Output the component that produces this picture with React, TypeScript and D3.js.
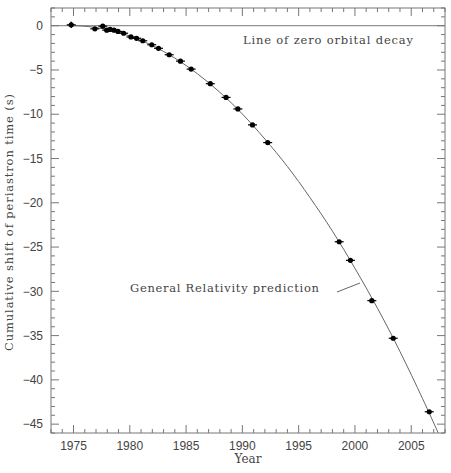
import React, { useEffect, useRef } from 'react';
import * as d3 from 'd3';

// observed cumulative periastron shift (s)
const obsYears = [1974.8, 1976.9, 1977.6, 1977.95, 1978.25, 1978.6, 1978.95, 1979.45, 1980.1, 1980.6,
  1981.15, 1981.95, 1982.55, 1983.5, 1984.5, 1985.45, 1987.15, 1988.55, 1989.6, 1990.9,
  1992.25, 1998.6, 1999.6, 2001.5, 2003.4, 2006.6];
const obsShift = [0.1, -0.35, -0.05, -0.5, -0.42, -0.5, -0.65, -0.85, -1.27, -1.42,
  -1.7, -2.15, -2.55, -3.28, -4.0, -4.9, -6.55, -8.1, -9.4, -11.2,
  -13.2, -24.4, -26.5, -31.05, -35.3, -43.6];
const obsErr = [0.35, 0.15, 0.15, 0.1, 0.1, 0.1, 0.1, 0.1, 0.1, 0.1,
  0.1, 0.1, 0.1, 0.1, 0.1, 0.1, 0.1, 0.1, 0.1, 0.1,
  0.1, 0.1, 0.1, 0.1, 0.1, 0.1];

// GR prediction curve
const grYears = [1974.5, 1976, 1978, 1980, 1982, 1984, 1986, 1988, 1990, 1992, 1994, 1996, 1998, 2000, 2002, 2004, 2006, 2007.4];
const grShift = [0, -0.06, -0.44, -1.17, -2.24, -3.66, -5.42, -7.52, -9.97, -12.8, -15.9, -19.4, -23.2, -27.4, -31.9, -36.8, -42.1, -46];

const xMajor = [1975, 1980, 1985, 1990, 1995, 2000, 2005];
const yMajor = [0, -5, -10, -15, -20, -25, -30, -35, -40, -45];

function App() {
  const ref = useRef(null);
  const width = 451, height = 473;

  useEffect(() => {
    const svg = d3.select(ref.current);
    svg.selectAll("*").remove();

    const margin = { top: 8, left: 51 };
    const w = 394, h = 425;
    const axisColor = "#777";
    const textColor = "#444";

    const x = d3.scaleLinear().domain([1973, 2008]).range([0, w]);
    const y = d3.scaleLinear().domain([-46, 2]).range([h, 0]);

    const g = svg.append("g").attr("transform", `translate(${margin.left},${margin.top})`);

    g.append("clipPath").attr("id", "plotclip")
      .append("rect").attr("width", w).attr("height", h);

    // zero line
    g.append("line")
      .attr("x1", 0).attr("x2", w)
      .attr("y1", y(0)).attr("y2", y(0))
      .attr("stroke", axisColor).attr("stroke-width", 1);

    // GR curve
    const line = d3.line<number>()
      .x(i => x(grYears[i]))
      .y(i => y(grShift[i]))
      .curve(d3.curveNatural);
    g.append("path")
      .attr("d", line(d3.range(grYears.length)))
      .attr("fill", "none")
      .attr("stroke", "#666")
      .attr("stroke-width", 1)
      .attr("clip-path", "url(#plotclip)");

    // data points
    const pts = g.selectAll(".pt").data(d3.range(obsYears.length)).enter().append("g").attr("class", "pt");
    pts.append("line")
      .attr("x1", i => x(obsYears[i])).attr("x2", i => x(obsYears[i]))
      .attr("y1", i => y(obsShift[i] + obsErr[i])).attr("y2", i => y(obsShift[i] - obsErr[i]))
      .attr("stroke", "#000").attr("stroke-width", 1.5);
    pts.append("line")
      .attr("x1", i => x(obsYears[i]) - 4.5).attr("x2", i => x(obsYears[i]) + 4.5)
      .attr("y1", i => y(obsShift[i])).attr("y2", i => y(obsShift[i]))
      .attr("stroke", "#000").attr("stroke-width", 1.2);
    pts.append("circle")
      .attr("cx", i => x(obsYears[i])).attr("cy", i => y(obsShift[i]))
      .attr("r", 2.6).attr("fill", "#000");

    // frame
    g.append("rect")
      .attr("width", w).attr("height", h)
      .attr("fill", "none").attr("stroke", axisColor).attr("stroke-width", 1);

    // ticks on all sides, pointing inward
    const xMinor = d3.range(1973, 2009);
    const yMinor = d3.range(-46, 3);
    xMinor.forEach(v => {
      const len = xMajor.includes(v) ? 8 : 4;
      g.append("line").attr("x1", x(v)).attr("x2", x(v)).attr("y1", h).attr("y2", h - len).attr("stroke", axisColor);
      g.append("line").attr("x1", x(v)).attr("x2", x(v)).attr("y1", 0).attr("y2", len).attr("stroke", axisColor);
    });
    yMinor.forEach(v => {
      const len = yMajor.includes(v) ? 8 : 4;
      g.append("line").attr("x1", 0).attr("x2", len).attr("y1", y(v)).attr("y2", y(v)).attr("stroke", axisColor);
      g.append("line").attr("x1", w).attr("x2", w - len).attr("y1", y(v)).attr("y2", y(v)).attr("stroke", axisColor);
    });

    // tick labels
    g.selectAll(".xl").data(xMajor).enter().append("text")
      .attr("x", d => x(d)).attr("y", h + 17)
      .attr("text-anchor", "middle")
      .attr("font-family", "Liberation Sans, sans-serif").attr("font-size", 12)
      .attr("fill", textColor)
      .text(d => d);
    const fmt = d3.format("d");
    g.selectAll(".yl").data(yMajor).enter().append("text")
      .attr("x", -8).attr("y", d => y(d)).attr("dy", "0.35em")
      .attr("text-anchor", "end")
      .attr("font-family", "Liberation Sans, sans-serif").attr("font-size", 12)
      .attr("fill", textColor)
      .text(d => fmt(d));

    // axis titles
    svg.append("text")
      .attr("x", margin.left + w / 2).attr("y", 463)
      .attr("text-anchor", "middle")
      .attr("font-family", "DejaVu Serif, serif").attr("font-size", 12)
      .attr("fill", textColor)
      .text("Year");
    svg.append("text")
      .attr("transform", `translate(13,${margin.top + h / 2 + 2}) rotate(-90)`)
      .attr("text-anchor", "middle")
      .attr("font-family", "DejaVu Serif, serif").attr("font-size", 11.5)
      .attr("fill", textColor)
      .attr("textLength", 257).attr("lengthAdjust", "spacing")
      .text("Cumulative shift of periastron time (s)");

    // annotations
    svg.append("text")
      .attr("x", 243).attr("y", 44)
      .attr("font-family", "DejaVu Serif, serif").attr("font-size", 11.5)
      .attr("fill", textColor)
      .attr("textLength", 170).attr("lengthAdjust", "spacing")
      .text("Line of zero orbital decay");
    svg.append("text")
      .attr("x", 130).attr("y", 292)
      .attr("font-family", "DejaVu Serif, serif").attr("font-size", 11.5)
      .attr("fill", textColor)
      .attr("textLength", 189).attr("lengthAdjust", "spacing")
      .text("General Relativity prediction");
    svg.append("line")
      .attr("x1", 337).attr("y1", 292).attr("x2", 360).attr("y2", 283)
      .attr("stroke", "#666").attr("stroke-width", 1);
  }, []);

  return <svg ref={ref} width={width} height={height}
    style={{ position: 'absolute', left: 0, top: 0, background: '#fff' }}></svg>;
}

export default App;
